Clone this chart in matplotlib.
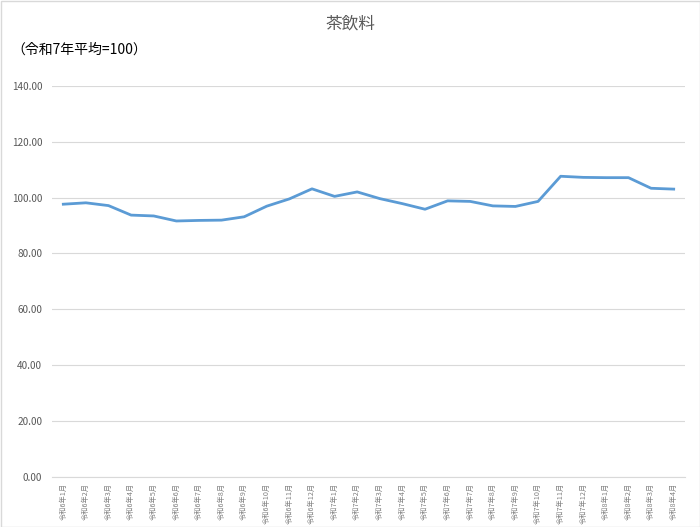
import matplotlib
matplotlib.use("Agg")
import matplotlib.pyplot as plt
from matplotlib.patches import Rectangle

plt.rcParams['font.family'] = ['Noto Sans CJK JP', 'DejaVu Sans']

title = '茶飲料'
note = '（令和7年平均=100）'

months = ['令和6年1月', '令和6年2月', '令和6年3月', '令和6年4月', '令和6年5月', '令和6年6月',
          '令和6年7月', '令和6年8月', '令和6年9月', '令和6年10月', '令和6年11月', '令和6年12月',
          '令和7年1月', '令和7年2月', '令和7年3月', '令和7年4月', '令和7年5月', '令和7年6月',
          '令和7年7月', '令和7年8月', '令和7年9月', '令和7年10月', '令和7年11月', '令和7年12月',
          '令和8年1月', '令和8年2月', '令和8年3月', '令和8年4月']
values = [97.6, 98.1, 97.1, 93.7, 93.4, 91.6, 91.8, 91.9, 93.1, 96.9, 99.5, 103.1,
          100.4, 102.0, 99.6, 97.8, 95.8, 98.8, 98.6, 97.0, 96.8, 98.6, 107.6, 107.2,
          107.1, 107.1, 103.3, 103.0]
yticks = [0, 20, 40, 60, 80, 100, 120, 140]

fig = plt.figure(figsize=(7.0, 5.27), dpi=100)
ax = fig.add_axes([52 / 700, 50 / 527, 633 / 700, 391.3 / 527])

x = list(range(len(months)))
ax.plot(x, values, color='#5B9BD5', linewidth=2.0, solid_joinstyle='round')

ax.set_xlim(-0.5, len(months) - 0.5)
ax.set_ylim(0, 140)
ax.set_yticks(yticks)
ax.set_yticklabels(['%.2f' % v for v in yticks], fontsize=7.2, color='#595959')
ax.set_xticks(x)
ax.set_xticklabels(months, rotation=90, fontsize=5.2, color='#808080')
ax.tick_params(axis='both', length=0)
ax.tick_params(axis='x', pad=4)
ax.tick_params(axis='y', pad=7)

ax.grid(axis='y', color='#D9D9D9', linewidth=0.8)
ax.set_axisbelow(True)
for s in ['top', 'right', 'left']:
    ax.spines[s].set_visible(False)
ax.spines['bottom'].set_color('#D9D9D9')
ax.spines['bottom'].set_linewidth(0.8)

fig.text(0.5, 1 - 24 / 527, title, ha='center', va='center', fontsize=12, color='#595959')
fig.text(11 / 700, 1 - 50 / 527, note, ha='left', va='center', fontsize=10, color='#000000')

fig.patches.append(Rectangle((0.5 / 700, 0.5 / 527), 699 / 700, 526 / 527,
                             transform=fig.transFigure, fill=False,
                             edgecolor='#D9D9D9', linewidth=1.0))

fig.savefig('out.png', dpi=100)
